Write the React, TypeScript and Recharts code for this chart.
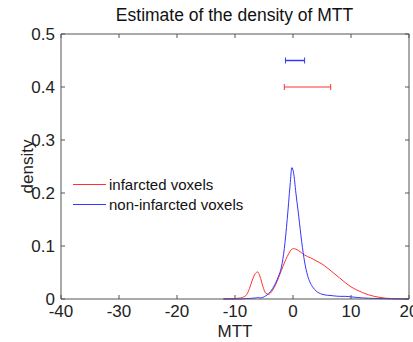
import React from 'react';
import { LineChart, Line, XAxis, YAxis, Legend, ReferenceLine } from 'recharts';

// MTT grid and density estimates
const mtt = [-12, -10, -9, -8.5, -8, -7.5, -7, -6.5, -6.1, -5.7, -5.2, -4.7, -4.2, -3.5, -3, -2.5, -2, -1.5, -1, -0.5, -0.2, 0.1, 0.5, 1, 1.5, 2, 2.5, 3, 3.5, 4, 5, 6, 7, 8, 9, 10, 11, 12, 13, 14, 15, 16, 17, 18, 20];
const infarcted = [0, 0.001, 0.002, 0.004, 0.008, 0.02, 0.036, 0.048, 0.051, 0.043, 0.024, 0.011, 0.009, 0.017, 0.027, 0.04, 0.054, 0.068, 0.08, 0.09, 0.094, 0.095, 0.094, 0.091, 0.087, 0.083, 0.08, 0.078, 0.075, 0.072, 0.066, 0.058, 0.049, 0.04, 0.031, 0.023, 0.017, 0.012, 0.008, 0.005, 0.003, 0.0015, 0.0008, 0.0004, 0];
const nonInfarcted = [0, 0, 0, 0.0005, 0.001, 0.001, 0.0015, 0.002, 0.003, 0.002, 0.003, 0.006, 0.01, 0.02, 0.03, 0.043, 0.06, 0.095, 0.15, 0.215, 0.248, 0.238, 0.2, 0.155, 0.108, 0.07, 0.045, 0.03, 0.021, 0.015, 0.009, 0.007, 0.006, 0.005, 0.005, 0.004, 0.003, 0.002, 0.0015, 0.001, 0.0008, 0.0005, 0.0003, 0.0002, 0];

// interval bars above the curves
const barLevel = [0.45, 0.4];
const barLow = [-1.3, -1.5];
const barHigh = [2.0, 6.5];

const xTicks = [-40, -30, -20, -10, 0, 10, 20];
const yTicks = [0, 0.1, 0.2, 0.3, 0.4, 0.5];

const RED = '#ff3030';
const BLUE = '#3535ff';
const AXIS = '#555';
const FONT = '"Liberation Sans", Arial, sans-serif';

const PLOT_TOP = 34;
const PLOT_LEFT = 61;
const PLOT_RIGHT = 409;

const data = mtt.map((x, i) => ({ x, inf: infarcted[i], non: nonInfarcted[i] }));
const blueBar = [{ x: barLow[0], y: barLevel[0] }, { x: barHigh[0], y: barLevel[0] }];
const redBar = [{ x: barLow[1], y: barLevel[1] }, { x: barHigh[1], y: barLevel[1] }];

const TICK_MARGIN = 6;
const TICK_LEN = 4;

// bottom tick: inward mark on both bottom and top frame edges
const BottomTick = (props: any) => {
  const { x, y, payload } = props;
  const axisY = y - TICK_MARGIN;
  return (
    <g>
      <line x1={x} x2={x} y1={axisY} y2={axisY - TICK_LEN} stroke={AXIS} />
      <line x1={x} x2={x} y1={PLOT_TOP} y2={PLOT_TOP + TICK_LEN} stroke={AXIS} />
      <text x={x} y={y} dy="0.71em" textAnchor="middle" fontSize={17} fill="#222" fontFamily={FONT}>{payload.value}</text>
    </g>
  );
};

// left tick: inward mark on both left and right frame edges
const LeftTick = (props: any) => {
  const { x, y, payload } = props;
  const axisX = x + TICK_MARGIN;
  return (
    <g>
      <line x1={axisX} x2={axisX + TICK_LEN} y1={y} y2={y} stroke={AXIS} />
      <line x1={PLOT_RIGHT} x2={PLOT_RIGHT - TICK_LEN} y1={y} y2={y} stroke={AXIS} />
      <text x={x} y={y} dy="0.355em" textAnchor="end" fontSize={17} fill="#222" fontFamily={FONT}>{payload.value}</text>
    </g>
  );
};

const DensityLabel = (props: any) => {
  const cy = props.viewBox ? props.viewBox.y + props.viewBox.height / 2 : 167;
  return (
    <text x={27} y={cy} transform={`rotate(-90, 27, ${cy})`} dy="0.355em" textAnchor="middle" fontSize={17} fill="#222" fontFamily={FONT}>
      density
    </text>
  );
};

const barEnd = (color: string) => (props: any) => {
  const { cx, cy, index } = props;
  return <line key={index} x1={cx} x2={cx} y1={cy - 3} y2={cy + 3} stroke={color} strokeWidth={1} />;
};

const LegendBox = () => (
  <div style={{ fontFamily: FONT, fontSize: 15, color: '#111' }}>
    {[{ c: RED, t: 'infarcted voxels' }, { c: BLUE, t: 'non-infarcted voxels' }].map(e => (
      <div key={e.t} style={{ display: 'flex', alignItems: 'center', height: 20 }}>
        <span style={{ display: 'inline-block', width: 33, height: 0, borderTop: `1px solid ${e.c}`, marginRight: 3 }} />
        <span>{e.t}</span>
      </div>
    ))}
  </div>
);

export default function App() {
  return (
    <div style={{ position: 'absolute', left: 0, top: 0, width: 413, height: 342, background: '#fff' }}>
      <div style={{ position: 'absolute', left: 61, width: 347, top: 5, textAlign: 'center', fontFamily: FONT, fontSize: 17.5, color: '#111' }}>
        Estimate of the density of MTT
      </div>
      <LineChart width={413} height={342} data={data} margin={{ top: PLOT_TOP, right: 413 - PLOT_RIGHT, left: 0, bottom: 0 }}>
        <XAxis
          dataKey="x"
          type="number"
          domain={[-40, 20]}
          ticks={xTicks}
          interval={0}
          height={43}
          stroke={AXIS}
          tickSize={0}
          tickMargin={TICK_MARGIN}
          tick={<BottomTick />}
          allowDataOverflow
          label={{ value: 'MTT', position: 'insideBottom', offset: 5, fontSize: 17, fill: '#222', fontFamily: FONT }}
        />
        <YAxis
          type="number"
          domain={[0, 0.5]}
          ticks={yTicks}
          interval={0}
          width={PLOT_LEFT}
          stroke={AXIS}
          tickSize={0}
          tickMargin={TICK_MARGIN}
          tick={<LeftTick />}
          label={<DensityLabel />}
        />
        <ReferenceLine x={20} stroke={AXIS} ifOverflow="extendDomain" />
        <ReferenceLine y={0.5} stroke={AXIS} ifOverflow="extendDomain" />
        <Legend
          layout="horizontal"
          verticalAlign="middle"
          align="center"
          content={() => <LegendBox />}
          wrapperStyle={{ left: 73, top: 174, width: 220, height: 40 }}
        />
        <Line type="monotone" dataKey="inf" name="infarcted voxels" stroke={RED} strokeWidth={1} dot={false} isAnimationActive={false} />
        <Line type="monotone" dataKey="non" name="non-infarcted voxels" stroke={BLUE} strokeWidth={1} dot={false} isAnimationActive={false} />
        <Line data={blueBar} dataKey="y" stroke={BLUE} strokeWidth={1.5} dot={barEnd(BLUE)} legendType="none" isAnimationActive={false} />
        <Line data={redBar} dataKey="y" stroke={RED} strokeWidth={1} dot={barEnd(RED)} legendType="none" isAnimationActive={false} />
      </LineChart>
    </div>
  );
}
